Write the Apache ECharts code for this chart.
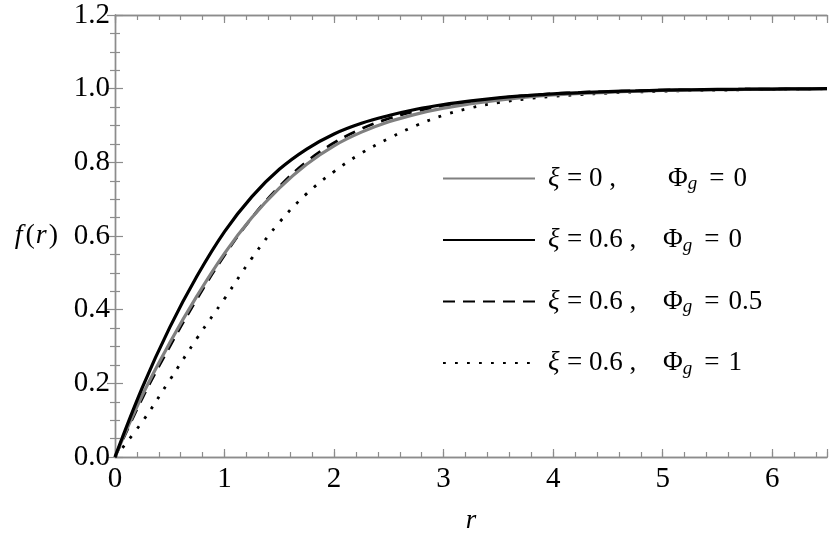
<!DOCTYPE html>
<html>
<head>
<meta charset="utf-8">
<script src="https://cdn.jsdelivr.net/npm/echarts@6/dist/echarts.min.js"></script>
<style>
  html, body { margin: 0; padding: 0; background: #fff; }
  #main { width: 830px; height: 547px; }
</style>
</head>
<body>
<div id="main"></div>
<script>
// r grid shared by all curves (step 0.25)
const rValues = [0, 0.25, 0.5, 0.75, 1.0, 1.25, 1.5, 1.75, 2.0, 2.25, 2.5, 2.75, 3.0,
  3.25, 3.5, 3.75, 4.0, 4.25, 4.5, 4.75, 5.0, 5.25, 5.5, 5.75, 6.0, 6.25, 6.5];

// xi = 0, Phi_g = 0 (gray)
const fGray = [0, 0.168, 0.31, 0.438, 0.553, 0.65, 0.73, 0.795, 0.845, 0.882, 0.91, 0.931, 0.947,
  0.959, 0.969, 0.977, 0.983, 0.987, 0.99, 0.993, 0.995, 0.996, 0.997, 0.998, 0.999, 0.9995, 1.0];
// xi = 0.6, Phi_g = 0 (black)
const fBlack = [0, 0.189, 0.352, 0.492, 0.612, 0.707, 0.781, 0.836, 0.877, 0.906, 0.927, 0.944, 0.957,
  0.967, 0.975, 0.981, 0.986, 0.989, 0.992, 0.994, 0.996, 0.997, 0.998, 0.9985, 0.999, 0.9995, 1.0];
// xi = 0.6, Phi_g = 0.5 (dashed)
const fDashed = [0, 0.16, 0.3, 0.43, 0.548, 0.65, 0.734, 0.802, 0.853, 0.891, 0.919, 0.939, 0.954,
  0.965, 0.974, 0.981, 0.986, 0.99, 0.992, 0.994, 0.996, 0.997, 0.998, 0.9985, 0.999, 0.9995, 1.0];
// xi = 0.6, Phi_g = 1 (dotted)
const fDotted = [0, 0.096, 0.209, 0.323, 0.43, 0.54, 0.637, 0.715, 0.775, 0.825, 0.865, 0.9, 0.928,
  0.948, 0.962, 0.972, 0.979, 0.984, 0.988, 0.991, 0.993, 0.995, 0.996, 0.997, 0.998, 0.999, 1.0];

const seriesNames = ['s1', 's2', 's3', 's4'];
const xiLabels = ['0', '0.6', '0.6', '0.6'];
const phiLabels = ['0', '0', '0.5', '1'];

const font = 'Liberation Serif';
const frameColor = '#8c8c8c';
const fs = 27;
const tickFs = 29;

function pairs(ys) {
  return rValues.map((r, i) => [r, ys[i]]);
}

const chart = echarts.init(document.getElementById('main'));

const xBase = {
  type: 'value', min: 0, max: 6.5,
  axisLine: { show: true, lineStyle: { color: frameColor, width: 1.4 } },
  splitLine: { show: false },
  axisLabel: { show: false }
};
const yBase = {
  type: 'value', min: 0, max: 1.2, interval: 0.2,
  axisLine: { show: true, lineStyle: { color: frameColor, width: 1.4 } },
  splitLine: { show: false },
  axisTick: { inside: true, length: 8, lineStyle: { color: frameColor, width: 1.2 } },
  minorTick: { show: true, splitNumber: 4, length: 5, lineStyle: { color: frameColor, width: 1.2 } },
  axisLabel: { show: false }
};
const majorTick = { inside: true, length: 8, lineStyle: { color: frameColor, width: 1.2 } };
const minorTickX = { inside: true, length: 5, lineStyle: { color: frameColor, width: 1.2 } };

const txt = { fontFamily: font, fontSize: fs, color: '#000', lineHeight: 30 };
const txtIt = Object.assign({}, txt, { fontStyle: 'italic' });

const option = {
  animation: false,
  backgroundColor: '#fff',
  grid: { left: 115, right: 1, top: 15, bottom: 90 },
  xAxis: [
    Object.assign({}, xBase, {
      position: 'bottom', interval: 1, axisTick: majorTick,
      axisLabel: {
        show: true, margin: 8, color: '#000', fontFamily: font, fontSize: tickFs,
        formatter: v => Number.isInteger(v) ? String(v) : ''
      },
      name: 'r', nameLocation: 'middle', nameGap: 50,
      nameTextStyle: { fontFamily: font, fontSize: fs, fontStyle: 'italic', color: '#000' }
    }),
    Object.assign({}, xBase, { position: 'bottom', interval: 0.2, axisTick: minorTickX }),
    Object.assign({}, xBase, { position: 'top', interval: 1, axisTick: majorTick }),
    Object.assign({}, xBase, { position: 'top', interval: 0.2, axisTick: minorTickX })
  ],
  yAxis: [
    Object.assign({}, yBase, {
      position: 'left',
      axisLabel: {
        show: true, margin: 5, color: '#000', fontFamily: font, fontSize: tickFs,
        formatter: v => v.toFixed(1)
      },
      name: '{f|f}{n|(}{r|r}{n|)}', nameLocation: 'middle', nameRotate: 0, nameGap: 57,
      nameTextStyle: {
        rich: {
          f: Object.assign({}, txtIt, { fontSize: 28, padding: [0, 3, 0, 0] }),
          r: Object.assign({}, txtIt, { fontSize: 28, padding: [0, 2, 0, 1] }),
          n: Object.assign({}, txt, { fontSize: 28 })
        }
      }
    }),
    Object.assign({}, yBase, { position: 'right' })
  ],
  legend: {
    orient: 'vertical',
    left: 442, top: 165, padding: 0,
    itemWidth: 92, itemHeight: 1, itemGap: 33,
    itemStyle: { opacity: 0 },
    data: seriesNames,
    formatter: function (name) {
      const i = seriesNames.indexOf(name);
      const a = i === 0 ? 'a1' : 'a2';
      return '{x|ξ}{' + a + '|= ' + xiLabels[i] + ' ,}{p|Φ}{s|g}{e|=}{b|' + phiLabels[i] + '}';
    },
    textStyle: {
      padding: [0, 0, 0, 8],
      rich: {
        x: Object.assign({}, txtIt, { width: 19 }),
        a1: Object.assign({}, txt, { width: 101 }),
        a2: Object.assign({}, txt, { width: 96 }),
        p: txt,
        s: { fontFamily: font, fontSize: 19, fontStyle: 'italic', color: '#000', lineHeight: 30, verticalAlign: 'bottom', padding: [0, 3, 0, 0] },
        e: Object.assign({}, txt, { padding: [0, 9, 0, 9] }),
        b: txt
      }
    }
  },
  series: [
    {
      name: 's1', type: 'line', data: pairs(fGray), smooth: 0.4, symbol: 'none', z: 3,
      lineStyle: { color: '#808080', width: 3.2 }, itemStyle: { color: '#808080' }
    },
    {
      name: 's2', type: 'line', data: pairs(fBlack), smooth: 0.4, symbol: 'none', z: 4,
      lineStyle: { color: '#000', width: 3.2 }, itemStyle: { color: '#000' }
    },
    {
      name: 's3', type: 'line', data: pairs(fDashed), smooth: 0.4, symbol: 'none', z: 2,
      lineStyle: { color: '#000', width: 2.8, type: [12, 8] }, itemStyle: { color: '#000' }
    },
    {
      name: 's4', type: 'line', data: pairs(fDotted), smooth: 0.4, symbol: 'none', z: 2,
      lineStyle: { color: '#000', width: 2.8, type: [2.8, 9.2] }, itemStyle: { color: '#000' }
    }
  ]
};

chart.setOption(option);
</script>
</body>
</html>
